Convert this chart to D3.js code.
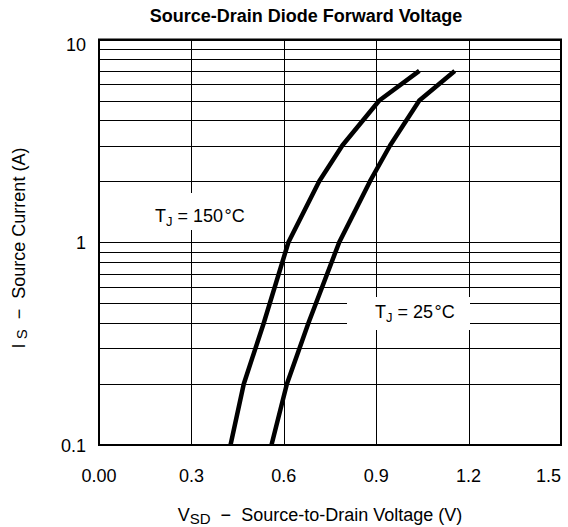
<!DOCTYPE html>
<html>
<head>
  <meta charset="utf-8">
  <script src="https://d3js.org/d3.v7.min.js"></script>
  <style>
    body { margin: 0; background: #fff; }
    text { font-family: "Liberation Sans", Arial, sans-serif; fill: #000; white-space: pre; }
  </style>
</head>
<body>
  <svg width="568" height="527"></svg>
  <script>
    // data
    var currents = [0.1, 0.2, 0.4, 1, 2, 3, 5, 7];
    var vsd150 = [0.427, 0.47, 0.535, 0.615, 0.715, 0.79, 0.91, 1.04];
    var vsd25 = [0.56, 0.61, 0.68, 0.78, 0.88, 0.945, 1.04, 1.155];
    var xTicks = [0, 0.3, 0.6, 0.9, 1.2, 1.5];
    var xTickLabels = ["0.00", "0.3", "0.6", "0.9", "1.2", "1.5"];
    var yTicks = [0.1, 1, 10];
    var yTickLabels = ["0.1", "1", "10"];
    var yGrid = [];
    [0.1, 1].forEach(function (d) {
      for (var k = 1; k < 10; k++) yGrid.push(d * k);
    });
    yGrid.push(10);

    var svg = d3.select("svg");
    var marge = { top: 39.5, left: 99, right: 561, bottom: 445 };

    var x = d3.scaleLinear().domain([0, 1.5]).range([marge.left, marge.right]);
    var y = d3.scaleLog().domain([0.1, 10]).range([marge.bottom, marge.top]);

    // grid
    var grid = svg.append("g");
    grid.selectAll("line.h")
      .data(yGrid)
      .enter()
      .append("line")
      .attr("x1", marge.left).attr("x2", marge.right)
      .attr("y1", function (d) { return Math.round(y(d)) + 0.5; })
      .attr("y2", function (d) { return Math.round(y(d)) + 0.5; })
      .attr("stroke", "#000").attr("stroke-width", 1);
    grid.selectAll("line.v")
      .data(xTicks)
      .enter()
      .append("line")
      .attr("x1", function (d) { return Math.round(x(d)) + 0.5; })
      .attr("x2", function (d) { return Math.round(x(d)) + 0.5; })
      .attr("y1", marge.top).attr("y2", marge.bottom)
      .attr("stroke", "#000").attr("stroke-width", 1);

    svg.append("rect")
      .attr("x", marge.left).attr("y", marge.top)
      .attr("width", marge.right - marge.left)
      .attr("height", marge.bottom - marge.top)
      .attr("fill", "none").attr("stroke", "#000").attr("stroke-width", 2);

    // curves
    var line = d3.line()
      .x(function (d) { return x(d[0]); })
      .y(function (d) { return y(d[1]); });

    [vsd150, vsd25].forEach(function (v) {
      svg.append("path")
        .attr("d", line(v.map(function (d, i) { return [d, currents[i]]; })))
        .attr("fill", "none")
        .attr("stroke", "#000")
        .attr("stroke-width", 4.5)
        .attr("stroke-linejoin", "round");
    });

    // labels with white boxes
    function label(bx, by, bw, bh, tx, ty, temp) {
      svg.append("rect")
        .attr("x", bx).attr("y", by).attr("width", bw).attr("height", bh)
        .attr("fill", "#fff");
      var t = svg.append("text")
        .attr("x", tx).attr("y", ty)
        .attr("font-size", 18);
      t.append("tspan").text("T");
      t.append("tspan").attr("font-size", 13).attr("dy", 4).text("J");
      t.append("tspan").attr("dy", -4).text(" = " + temp + "\u200a\u00b0C");
    }
    label(140, 193, 125, 37, 155, 222, "150");
    label(347, 297, 123, 33, 375, 318, "25");

    // tick labels (last one kept inside the window)
    svg.append("g")
      .selectAll("text")
      .data(xTicks)
      .enter()
      .append("text")
      .attr("x", function (d) { return Math.min(x(d), 566); })
      .attr("y", 482)
      .attr("text-anchor", function (d) { return x(d) > 555 ? "end" : "middle"; })
      .attr("font-size", 18)
      .text(function (d, i) { return xTickLabels[i]; });

    var yLabelShift = [7, 7, 11];
    svg.append("g")
      .selectAll("text")
      .data(yTicks)
      .enter()
      .append("text")
      .attr("x", 86)
      .attr("y", function (d, i) { return y(d) + yLabelShift[i]; })
      .attr("text-anchor", "end")
      .attr("font-size", 18)
      .text(function (d, i) { return yTickLabels[i]; });

    // title
    svg.append("text")
      .attr("x", 306).attr("y", 22)
      .attr("text-anchor", "middle")
      .attr("font-size", 18)
      .attr("font-weight", "bold")
      .text("Source-Drain Diode Forward Voltage");

    // x axis title
    var xt = svg.append("text")
      .attr("x", 320).attr("y", 521)
      .attr("text-anchor", "middle")
      .attr("font-size", 18);
    xt.append("tspan").text("V");
    xt.append("tspan").attr("font-size", 15).attr("dy", 3).text("SD");
    xt.append("tspan").attr("dy", -3).text("  \u2212  Source-to-Drain Voltage (V)");

    // y axis title
    var yt = svg.append("text")
      .attr("transform", "translate(25,248) rotate(-90)")
      .attr("text-anchor", "middle")
      .attr("font-size", 18);
    yt.append("tspan").text("I");
    yt.append("tspan").attr("font-size", 15).attr("dy", 2).text(" S");
    yt.append("tspan").attr("dy", -2).text("  \u2212  Source Current (A)");
  </script>
</body>
</html>
